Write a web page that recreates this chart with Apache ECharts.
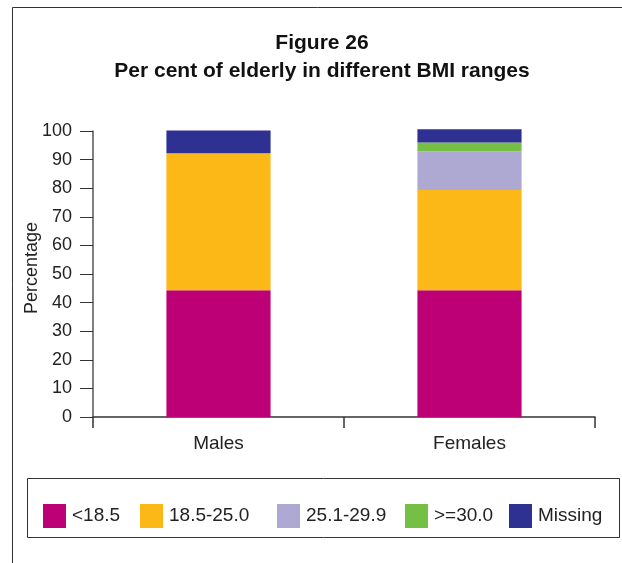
<!DOCTYPE html>
<html><head><meta charset="utf-8">
<script src="https://cdn.jsdelivr.net/npm/echarts@6/dist/echarts.min.js"></script>
<style>html,body{margin:0;padding:0;background:#fff}#c{width:622px;height:563px}</style>
</head><body><div id="c"></div>
<script>
const categories = ['Males', 'Females'];
const seriesNames = ['<18.5', '18.5-25.0', '25.1-29.9', '>=30.0', 'Missing'];
const under185 = [44.3, 44.3];
const normal = [47.9, 35.1];
const over = [0, 13.5];
const obese = [0, 3.1];
const missing = [8.0, 4.6];
const yTicks = [0, 10, 20, 30, 40, 50, 60, 70, 80, 90, 100];
const yAxisTitle = 'Percentage';
const colors = ['#BE0077', '#FBB817', '#ADA9D2', '#74BF44', '#2E3192'];
const values = [under185, normal, over, obese, missing];
const font = 'Liberation Sans, Arial, Helvetica, sans-serif';

const chart = echarts.init(document.getElementById('c'));
const legendLefts = [43, 140, 277, 405, 509];
chart.setOption({
  animation: false,
  title: {
    text: 'Figure 26\nPer cent of elderly in different BMI ranges',
    left: 317, textAlign: 'center', top: 24,
    textStyle: { fontFamily: font, fontSize: 21, fontWeight: 'bold', color: '#111', lineHeight: 28 }
  },
  legend: seriesNames.map((n, i) => ({
    data: [n], left: legendLefts[i], top: 504, itemWidth: 23, itemHeight: 24, itemGap: 0,
    padding: 0, icon: 'rect', selectedMode: false,
    textStyle: { fontFamily: font, fontSize: 19, color: '#222', padding: [0, 0, 0, 1] }
  })),
  graphic: [
    { type: 'line', shape: { x1: 12.5, y1: 7.5, x2: 622, y2: 7.5 }, style: { stroke: '#333', lineWidth: 1 } },
    { type: 'line', shape: { x1: 12.5, y1: 7.5, x2: 12.5, y2: 563 }, style: { stroke: '#333', lineWidth: 1 } },
    { type: 'rect', shape: { x: 27.5, y: 478.5, width: 592, height: 59 }, style: { fill: 'none', stroke: '#333', lineWidth: 1 } },
    { type: 'text', x: 32, y: 268, rotation: Math.PI / 2,
      style: { text: yAxisTitle, font: '18px ' + font, fill: '#222', align: 'center', verticalAlign: 'middle' } }
  ],
  grid: { left: 93, right: 27, top: 131, bottom: 146 },
  xAxis: {
    type: 'category', data: categories,
    axisLine: { lineStyle: { color: '#333', width: 1.5 } },
    axisTick: { show: true, length: 11, lineStyle: { color: '#333', width: 1.5 } },
    axisLabel: { fontFamily: font, fontSize: 19, color: '#222', margin: 17 }
  },
  yAxis: {
    type: 'value', min: 0, max: 100, interval: 10,
    axisLine: { show: true, lineStyle: { color: '#555', width: 1.5 } },
    axisTick: { show: true, length: 13, lineStyle: { color: '#333' } },
    splitLine: { show: false },
    axisLabel: { fontFamily: font, fontSize: 18, color: '#222', margin: 21,
      formatter: v => yTicks.includes(v) ? String(v) : '' }
  },
  series: seriesNames.map((n, i) => ({
    name: n, type: 'bar', stack: 'all', data: values[i], barWidth: '41.5%', clip: false,
    itemStyle: { color: colors[i] }
  }))
});
</script></body></html>
